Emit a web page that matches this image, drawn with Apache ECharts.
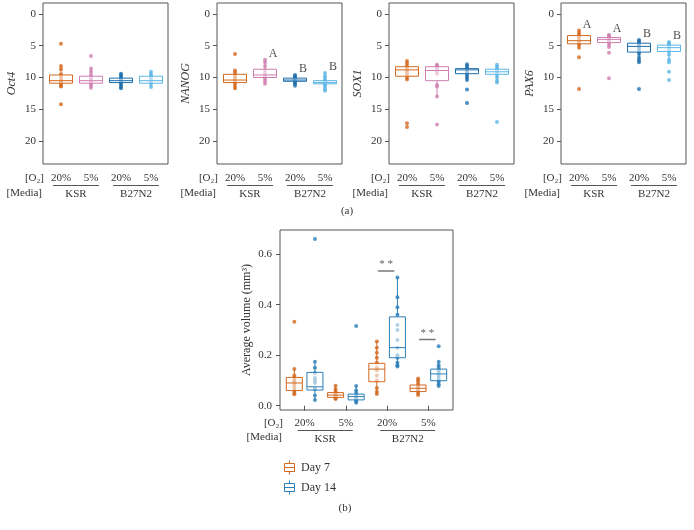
<!DOCTYPE html>
<html lang="en">
<head>
    <meta charset="UTF-8">
    <title>Gene expression and volume</title>
    <script src="https://cdn.jsdelivr.net/npm/echarts@6/dist/echarts.min.js"></script>
    <style>
        body { margin: 0; background: #fff; }
    </style>
</head>
<body>
    <div id="main" style="width: 694px; height: 530px;"></div>

    <script>
        // ---- data ----
        var geneNames = ['Oct4', 'NANOG', 'SOX1', 'PAX6'];
        var o2Levels = ['20%', '5%', '20%', '5%'];
        var mediaNames = ['KSR', 'B27N2'];
        var geneTicks = [0, 5, 10, 15, 20];
        var volumeTicks = [0, 0.2, 0.4, 0.6];

        // box stats: [low whisker, Q1, median, Q3, high whisker]
        var oct4Box = [[8.2, 9.6, 10.5, 10.9, 11.4], [8.6, 9.8, 10.5, 10.9, 11.6], [9.4, 10.1, 10.5, 10.8, 11.7], [9.1, 9.8, 10.5, 10.9, 11.5]];
        var oct4Pts = [
            [4.7, 8.2, 8.7, 9.5, 9.8, 10.2, 10.5, 10.6, 10.8, 11.0, 11.3, 11.4, 14.2],
            [6.6, 8.6, 9.1, 9.6, 10.0, 10.3, 10.5, 10.7, 11.0, 11.3, 11.6],
            [9.4, 9.6, 9.9, 10.2, 10.4, 10.6, 10.9, 11.2, 11.5, 11.7],
            [9.1, 9.5, 9.8, 10.1, 10.4, 10.7, 11.0, 11.5]
        ];
        var nanogBox = [[8.9, 9.5, 10.4, 10.8, 11.9], [7.2, 8.7, 9.6, 10.0, 11.0], [9.6, 10.1, 10.4, 10.6, 11.3], [9.3, 10.5, 10.8, 11.0, 12.1]];
        var nanogPts = [
            [6.3, 8.9, 9.2, 9.6, 9.9, 10.1, 10.3, 10.6, 10.9, 11.3, 11.7],
            [7.2, 7.6, 8.2, 8.8, 9.3, 9.6, 9.9, 10.2, 10.6, 11.0],
            [9.6, 9.8, 10.0, 10.2, 10.4, 10.6, 10.8, 11.0, 11.3],
            [9.3, 9.8, 10.2, 10.5, 10.7, 10.9, 11.1, 11.4, 11.8, 12.1]
        ];
        var sox1Box = [[7.4, 8.3, 8.8, 9.8, 10.4], [8.0, 8.3, 8.9, 10.5, 13.0], [7.9, 8.6, 8.8, 9.4, 10.4], [8.0, 8.7, 9.1, 9.5, 10.8]];
        var sox1Pts = [
            [7.4, 7.8, 8.2, 8.5, 8.8, 9.1, 9.5, 10.0, 10.3, 17.2, 17.8],
            [8.0, 8.1, 8.3, 8.6, 9.0, 9.4, 11.2, 11.4, 13.0, 17.4],
            [7.9, 8.2, 8.5, 8.7, 9.0, 9.3, 9.7, 10.0, 10.4, 11.9, 14.0],
            [8.0, 8.3, 8.6, 8.9, 9.2, 9.6, 10.0, 10.5, 10.8, 17.0]
        ];
        var pax6Box = [[2.6, 3.4, 4.2, 4.7, 5.3], [3.3, 3.7, 4.0, 4.5, 5.2], [4.1, 4.6, 5.1, 6.0, 7.6], [4.4, 4.9, 5.3, 5.9, 7.6]];
        var pax6Pts = [
            [2.6, 3.0, 3.3, 3.7, 4.0, 4.3, 4.6, 4.9, 5.3, 6.8, 11.8],
            [3.3, 3.4, 3.6, 3.8, 4.0, 4.2, 4.4, 4.8, 5.2, 6.1, 10.1],
            [4.1, 4.3, 4.6, 4.9, 5.2, 5.5, 5.9, 6.3, 6.9, 7.3, 7.6, 11.8],
            [4.4, 4.6, 4.9, 5.1, 5.3, 5.6, 5.9, 6.4, 7.2, 7.6, 9.1, 10.4]
        ];
        var nanogLetters = ['', 'A', 'B', 'B'];
        var pax6Letters = ['A', 'A', 'B', 'B'];

        // average volume (mm3), groups: 20% KSR, 5% KSR, 20% B27N2, 5% B27N2
        var day7Box = [[0.045, 0.06, 0.09, 0.112, 0.145], [0.027, 0.033, 0.042, 0.052, 0.079], [0.046, 0.095, 0.145, 0.168, 0.254], [0.042, 0.056, 0.069, 0.082, 0.108]];
        var day7Pts = [
            [0.045, 0.05, 0.06, 0.07, 0.08, 0.09, 0.095, 0.1, 0.11, 0.12, 0.145, 0.333],
            [0.027, 0.03, 0.035, 0.04, 0.045, 0.05, 0.055, 0.065, 0.079],
            [0.046, 0.055, 0.07, 0.1, 0.12, 0.14, 0.15, 0.17, 0.19, 0.21, 0.23, 0.254],
            [0.042, 0.05, 0.06, 0.065, 0.07, 0.075, 0.08, 0.09, 0.1, 0.108]
        ];
        var day14Box = [[0.023, 0.062, 0.075, 0.132, 0.174], [0.012, 0.023, 0.036, 0.046, 0.078], [0.155, 0.19, 0.23, 0.352, 0.508], [0.078, 0.099, 0.126, 0.145, 0.174]];
        var day14Pts = [
            [0.023, 0.04, 0.065, 0.07, 0.09, 0.1, 0.11, 0.13, 0.15, 0.174, 0.66],
            [0.012, 0.018, 0.025, 0.03, 0.035, 0.04, 0.05, 0.06, 0.078, 0.316],
            [0.155, 0.16, 0.17, 0.19, 0.2, 0.23, 0.26, 0.3, 0.32, 0.36, 0.39, 0.43, 0.508],
            [0.078, 0.085, 0.095, 0.1, 0.11, 0.12, 0.13, 0.14, 0.15, 0.16, 0.174, 0.236]
        ];
        var sigGroups = [2, 3];

        // ---- styling ----
        var serif = "'Liberation Serif', 'DejaVu Serif', serif";
        var textColor = '#333';
        var frameColor = '#555';
        var groupColors = ['#d4691f', '#cf7fb0', '#1f6fad', '#5cb6e6'];
        var day7Color = '#d2691e';
        var day14Color = '#2c7fb8';

        var geneBoxes = [oct4Box, nanogBox, sox1Box, pax6Box];
        var genePts = [oct4Pts, nanogPts, sox1Pts, pax6Pts];
        var geneLetters = [null, nanogLetters, null, pax6Letters];
        var panelLeft = [43, 217, 389, 561];
        var geneMin = -1.73, geneMax = 23.62;

        var grid = [], xAxis = [], yAxis = [], series = [], graphic = [];

        // box + whiskers (no caps), drawn through the axes
        function boxRenderer(colors, halfW) {
            return function (params, api) {
                var x = api.value(0);
                var lo = api.coord([x, api.value(1)]);
                var q1 = api.coord([x, api.value(2)]);
                var md = api.coord([x, api.value(3)]);
                var q3 = api.coord([x, api.value(4)]);
                var hi = api.coord([x, api.value(5)]);
                var c = colors[params.dataIndex % colors.length];
                var lineStyle = { stroke: c, lineWidth: 1 };
                var top = Math.min(q1[1], q3[1]);
                return {
                    type: 'group',
                    children: [
                        { type: 'line', shape: { x1: lo[0], y1: lo[1], x2: q1[0], y2: q1[1] }, style: lineStyle },
                        { type: 'line', shape: { x1: q3[0], y1: q3[1], x2: hi[0], y2: hi[1] }, style: lineStyle },
                        { type: 'rect', shape: { x: md[0] - halfW, y: top, width: 2 * halfW, height: Math.abs(q3[1] - q1[1]) },
                          style: { stroke: c, lineWidth: 1, fill: 'rgba(255,255,255,0.55)' } },
                        { type: 'line', shape: { x1: md[0] - halfW, y1: md[1], x2: md[0] + halfW, y2: md[1] }, style: lineStyle }
                    ]
                };
            };
        }

        function boxData(stats) {
            return stats.map(function (s, i) { return [i].concat(s); });
        }

        function mediaLabel(lineWidth) {
            return {
                margin: 0,
                interval: 0,
                formatter: function (v) { return '{l|}\n{t|' + v + '}'; },
                rich: {
                    l: { width: lineWidth, height: 1, backgroundColor: frameColor },
                    t: { fontFamily: serif, fontSize: 11, color: textColor, lineHeight: 15, padding: [1, 0, 0, 0] }
                }
            };
        }

        function sideText(x, y, text) {
            graphic.push({
                type: 'text', x: x, y: y,
                style: { text: text, fontFamily: serif, fontSize: 11, fill: textColor, align: 'right', verticalAlign: 'middle' }
            });
        }

        // ---- top panels (a) ----
        geneNames.forEach(function (gene, p) {
            var L = panelLeft[p];
            var gf = grid.length;
            grid.push({ left: L, top: 3, width: 125, height: 161, show: true, borderColor: frameColor, borderWidth: 1, backgroundColor: 'transparent' });
            grid.push({ left: L + 3, top: 3, width: 120, height: 161 });
            var gd = gf + 1;

            xAxis.push({ gridIndex: gf, type: 'category', data: o2Levels, show: false });
            yAxis.push({
                gridIndex: gf, type: 'value', inverse: true, min: geneMin, max: geneMax,
                name: gene, nameLocation: 'middle', nameGap: 25,
                nameTextStyle: { fontFamily: serif, fontSize: 12, fontStyle: 'italic', color: textColor },
                axisLine: { show: false, onZero: false },
                axisTick: { show: true, length: 4, customValues: geneTicks, lineStyle: { color: frameColor } },
                axisLabel: { customValues: geneTicks, margin: 7, fontFamily: serif, fontSize: 11, color: textColor },
                splitLine: { show: false }
            });

            var xo2 = xAxis.length;
            xAxis.push({
                gridIndex: gd, type: 'category', data: o2Levels, position: 'bottom',
                axisLine: { show: false }, axisTick: { show: false },
                axisLabel: { margin: 9, interval: 0, fontFamily: serif, fontSize: 11, color: textColor }
            });
            xAxis.push({
                gridIndex: gd, type: 'category', data: mediaNames, position: 'bottom', offset: 21,
                axisLine: { show: false }, axisTick: { show: false },
                axisLabel: mediaLabel(46)
            });
            var yd = yAxis.length;
            yAxis.push({ gridIndex: gd, type: 'value', inverse: true, min: geneMin, max: geneMax, show: false });

            var pts = [];
            genePts[p].forEach(function (arr, i) {
                arr.forEach(function (v) {
                    pts.push({ value: [i, v], itemStyle: { color: groupColors[i] } });
                });
            });
            series.push({
                type: 'scatter', xAxisIndex: xo2, yAxisIndex: yd, data: pts,
                symbolSize: 4, z: 2, silent: true
            });
            series.push({
                type: 'custom', xAxisIndex: xo2, yAxisIndex: yd, z: 3, silent: true,
                renderItem: boxRenderer(groupColors, 11.5),
                encode: { x: 0, y: [1, 2, 3, 4, 5] },
                data: boxData(geneBoxes[p])
            });
            if (geneLetters[p]) {
                series.push({
                    type: 'scatter', xAxisIndex: xo2, yAxisIndex: yd, symbolSize: 0, silent: true, z: 4,
                    data: geneLetters[p].map(function (t, i) {
                        return { value: [i, Math.min.apply(null, genePts[p][i]) - 0.9], letter: t };
                    }),
                    label: {
                        show: true, position: 'inside', offset: [8, 0],
                        fontFamily: serif, fontSize: 12, color: '#222',
                        formatter: function (d) { return d.data.letter; }
                    }
                });
            }

            sideText(L + 1, 178, '[O\u2082]');
            sideText(L - 1, 193, '[Media]');
        });

        graphic.push({ type: 'text', x: 347, y: 211, style: { text: '(a)', fontFamily: serif, fontSize: 11, fill: textColor, align: 'center', verticalAlign: 'middle' } });

        // ---- bottom panel (b) ----
        var volMin = -0.017, volMax = 0.696;
        var gb = grid.length;
        grid.push({ left: 280, top: 230, width: 173, height: 180, show: true, borderColor: frameColor, borderWidth: 1, backgroundColor: 'transparent' });
        grid.push({ left: 284, top: 230, width: 165, height: 180 });
        grid.push({ left: 273.7, top: 230, width: 165, height: 180 });
        grid.push({ left: 294.3, top: 230, width: 165, height: 180 });

        var xbFrame = xAxis.length;
        xAxis.push({ gridIndex: gb, type: 'value', min: -0.693, max: 7.693, show: false });
        var ybFrame = yAxis.length;
        yAxis.push({
            gridIndex: gb, type: 'value', min: volMin, max: volMax,
            name: 'Average volume (mm\u00b3)', nameLocation: 'middle', nameGap: 27,
            nameTextStyle: { fontFamily: serif, fontSize: 12, color: textColor },
            axisLine: { show: false, onZero: false },
            axisTick: { show: true, length: 4, customValues: volumeTicks, lineStyle: { color: frameColor } },
            axisLabel: {
                customValues: volumeTicks, margin: 8, fontFamily: serif, fontSize: 11, color: textColor,
                formatter: function (v) { return v.toFixed(1); }
            },
            splitLine: { show: false }
        });

        xAxis.push({
            gridIndex: gb + 1, type: 'category', data: o2Levels, position: 'bottom',
            axisLine: { show: false },
            axisTick: { show: true, alignWithLabel: true, interval: 0, length: 5, lineStyle: { color: frameColor } },
            axisLabel: { margin: 8, interval: 0, fontFamily: serif, fontSize: 11, color: textColor }
        });
        xAxis.push({
            gridIndex: gb + 1, type: 'category', data: mediaNames, position: 'bottom', offset: 20,
            axisLine: { show: false }, axisTick: { show: false },
            axisLabel: mediaLabel(55)
        });
        yAxis.push({ gridIndex: gb + 1, type: 'value', min: volMin, max: volMax, show: false });

        var dayBoxes = [day7Box, day14Box];
        var dayPts = [day7Pts, day14Pts];
        var dayColors = [day7Color, day14Color];
        var dayNames = ['Day 7', 'Day 14'];
        [0, 1].forEach(function (d) {
            var xi = xAxis.length, yi = yAxis.length;
            xAxis.push({ gridIndex: gb + 2 + d, type: 'category', data: o2Levels, show: false });
            yAxis.push({ gridIndex: gb + 2 + d, type: 'value', min: volMin, max: volMax, show: false });
            var pts = [];
            dayPts[d].forEach(function (arr, i) {
                arr.forEach(function (v) { pts.push([i, v]); });
            });
            series.push({
                type: 'scatter', xAxisIndex: xi, yAxisIndex: yi, data: pts, symbolSize: 4,
                itemStyle: { color: dayColors[d] }, z: 2, silent: true
            });
            series.push({
                name: dayNames[d], type: 'custom', xAxisIndex: xi, yAxisIndex: yi, z: 3, silent: true,
                renderItem: boxRenderer([dayColors[d]], 8),
                encode: { x: 0, y: [1, 2, 3, 4, 5] },
                itemStyle: { color: dayColors[d] },
                data: boxData(dayBoxes[d])
            });
        });

        // significance brackets
        sigGroups.forEach(function (g) {
            var h = Math.max(Math.max.apply(null, day7Pts[g]), Math.max.apply(null, day14Pts[g])) + 0.026;
            series.push({
                type: 'line', xAxisIndex: xbFrame, yAxisIndex: ybFrame, silent: true,
                data: [[2 * g + 0.05, h], [2 * g + 0.85, h]], symbol: 'none',
                lineStyle: { color: '#777', width: 1.5 }
            });
            series.push({
                type: 'scatter', xAxisIndex: xbFrame, yAxisIndex: ybFrame, silent: true, symbolSize: 0,
                data: [[2 * g + 0.45, h]],
                label: { show: true, position: 'top', distance: 1, formatter: '* *', fontFamily: serif, fontSize: 11, color: '#333' }
            });
        });

        sideText(283, 423, '[O\u2082]');
        sideText(282, 437, '[Media]');
        graphic.push({ type: 'text', x: 345, y: 508, style: { text: '(b)', fontFamily: serif, fontSize: 11, fill: textColor, align: 'center', verticalAlign: 'middle' } });

        var legendIcon = 'path://M6,0V3M6,11V14M1,3H11V11H1ZM1,7H11';

        var option = {
            animation: false,
            grid: grid,
            xAxis: xAxis,
            yAxis: yAxis,
            legend: {
                orient: 'vertical', left: 279, top: 455, itemWidth: 13, itemHeight: 14, itemGap: 5,
                textStyle: { fontFamily: serif, fontSize: 12, color: textColor },
                data: dayNames.map(function (n, d) {
                    return { name: n, icon: legendIcon, itemStyle: { color: 'rgba(255,255,255,0)', borderColor: dayColors[d], borderWidth: 1 } };
                }),
                selectedMode: false
            },
            graphic: graphic,
            series: series
        };

        var mycharts = echarts.init(document.getElementById('main'));
        mycharts.setOption(option);
    </script>
</body>
</html>
